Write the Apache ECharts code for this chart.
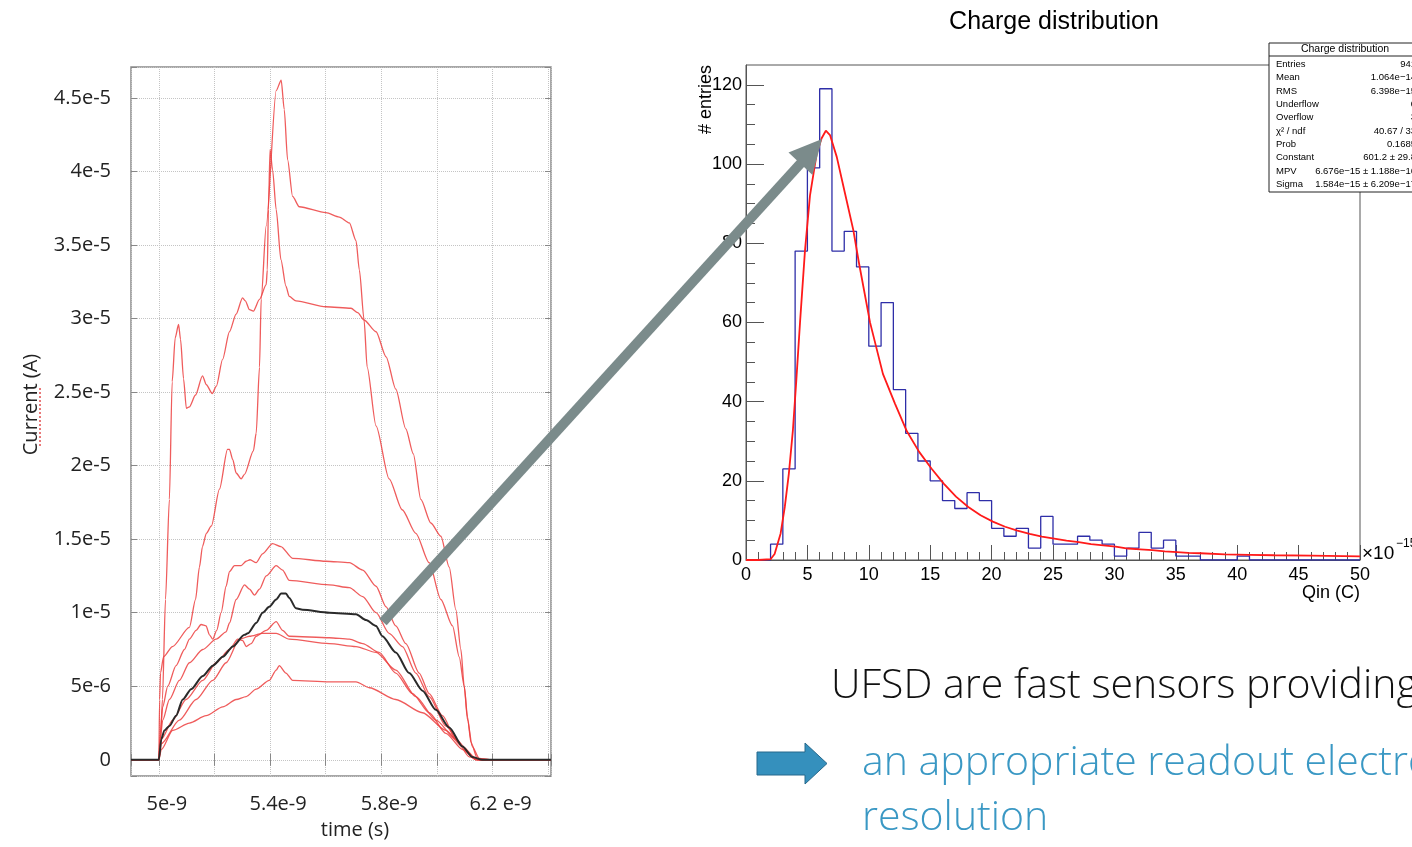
<!DOCTYPE html>
<html>
<head>
<meta charset="utf-8">
<title>UFSD current pulses and charge distribution</title>
<script src="https://cdn.jsdelivr.net/npm/echarts@6.0.0/dist/echarts.min.js"></script>
<style>
  html, body { margin: 0; padding: 0; background: #fff; }
  #chart { width: 1412px; height: 847px; }
</style>
</head>
<body>
<div id="chart"></div>
<script>
// left panel: simulated current pulses, time in ns, current in uA
var pulseTall = [[4.9,0],[5.0,0],[5.003,4.1],[5.006,5.9],[5.017,7.0],[5.049,7.7],[5.110,9.0],[5.132,10.9],[5.146,13.1],[5.157,14.5],[5.171,15.4],[5.189,15.9],[5.218,18.4],[5.247,21.1],[5.254,21.1],[5.266,20.4],[5.278,19.5],[5.296,19.1],[5.308,19.4],[5.340,21.0],[5.350,22.2],[5.362,26.7],[5.368,31.3],[5.386,36.3],[5.422,45.5],[5.440,46.2],[5.451,44.2],[5.463,40.8],[5.481,38.3],[5.505,37.6],[5.601,37.2],[5.649,36.9],[5.685,36.5],[5.709,35.3],[5.721,33.3],[5.738,29.9],[5.749,26.7],[5.781,22.7],[5.828,19.1],[5.875,17.0],[5.924,15.4],[5.972,13.4],[6.014,10.9],[6.056,9.1],[6.080,7.0],[6.098,5.0],[6.110,2.9],[6.122,1.2],[6.145,0.1],[6.198,0],[6.41,0]];
var pulseSpike = [[4.9,0],[5.0,0],[5.006,1.4],[5.013,4.1],[5.024,10.9],[5.038,17.7],[5.048,25.7],[5.059,28.7],[5.071,29.6],[5.078,28.6],[5.089,25.9],[5.099,23.9],[5.110,24.0],[5.132,24.8],[5.157,26.1],[5.171,25.5],[5.192,24.9],[5.207,25.4],[5.229,27.2],[5.254,29.1],[5.278,30.3],[5.301,31.4],[5.311,31.2],[5.326,30.6],[5.340,30.5],[5.362,31.3],[5.386,32.3],[5.390,33.3],[5.394,37.4],[5.400,41.5],[5.409,40.1],[5.422,37.4],[5.439,34.0],[5.457,32.2],[5.469,31.5],[5.493,31.2],[5.601,30.8],[5.691,30.7],[5.715,30.4],[5.738,29.9],[5.781,29.1],[5.817,27.4],[5.852,25.2],[5.888,22.5],[5.915,20.8],[5.942,17.7],[5.978,16.1],[6.014,15.2],[6.044,13.1],[6.068,10.2],[6.086,7.5],[6.098,5.0],[6.110,2.7],[6.127,0.9],[6.152,0.1],[6.198,0],[6.41,0]];
var pulseLow1 = [[4.9,0],[5.0,0],[5.005,1.8],[5.014,3.6],[5.032,5.0],[5.062,6.4],[5.092,7.5],[5.110,8.2],[5.134,8.8],[5.152,9.2],[5.170,9.1],[5.182,8.5],[5.194,8.2],[5.208,8.8],[5.224,10.0],[5.242,11.8],[5.254,12.8],[5.272,13.2],[5.296,13.2],[5.314,13.5],[5.328,13.6],[5.350,13.4],[5.373,14.0],[5.409,14.7],[5.439,14.5],[5.481,13.7],[5.601,13.5],[5.685,13.4],[5.733,12.9],[5.781,11.8],[5.817,10.4],[5.852,9.1],[5.888,7.9],[5.936,5.9],[5.972,4.5],[6.020,3.0],[6.068,1.4],[6.116,0.2],[6.152,0],[6.41,0]];
var pulseLow2 = [[4.9,0],[5.0,0],[5.005,1.4],[5.014,2.7],[5.038,4.1],[5.074,5.4],[5.110,6.6],[5.158,7.5],[5.206,8.2],[5.242,8.7],[5.254,9.3],[5.278,10.9],[5.308,11.9],[5.326,11.6],[5.344,11.2],[5.362,11.6],[5.386,12.5],[5.422,13.2],[5.445,12.9],[5.469,12.2],[5.613,11.9],[5.685,11.7],[5.733,11.1],[5.781,10.0],[5.828,8.6],[5.876,7.7],[5.924,5.9],[5.972,4.3],[6.032,2.3],[6.092,0.9],[6.140,0],[6.41,0]];
var pulseLow3 = [[4.9,0],[5.0,0],[5.009,1.4],[5.050,2.7],[5.098,4.1],[5.158,5.4],[5.206,6.6],[5.254,7.5],[5.284,8.2],[5.302,8.1],[5.314,7.7],[5.332,7.9],[5.350,8.4],[5.386,8.8],[5.422,9.4],[5.445,8.8],[5.469,8.4],[5.613,8.3],[5.685,8.2],[5.733,7.9],[5.792,7.3],[5.852,5.9],[5.912,4.5],[5.972,3.2],[6.032,1.8],[6.092,0.7],[6.140,0],[6.41,0]];
var pulseLow4 = [[4.9,0],[5.0,0],[5.009,1.1],[5.074,2.7],[5.134,4.1],[5.194,5.4],[5.242,6.6],[5.290,8.2],[5.326,8.4],[5.373,8.6],[5.422,8.6],[5.469,8.2],[5.613,7.9],[5.709,7.7],[5.781,7.3],[5.852,6.1],[5.924,4.3],[5.996,2.7],[6.068,1.4],[6.127,0.2],[6.152,0],[6.41,0]];
var pulseLow5 = [[4.9,0],[5.0,0],[5.009,0.7],[5.050,2.0],[5.110,2.5],[5.170,3.0],[5.230,3.6],[5.278,4.1],[5.314,4.3],[5.350,4.8],[5.397,5.4],[5.422,6.1],[5.433,6.4],[5.457,5.9],[5.481,5.4],[5.613,5.3],[5.709,5.3],[5.757,4.9],[5.852,4.1],[5.948,3.2],[6.032,2.0],[6.092,0.9],[6.140,0.1],[6.163,0],[6.41,0]];
var pulseBlack = [[4.9,0],[5.0,0],[5.009,1.4],[5.020,2.0],[5.038,2.3],[5.062,3.0],[5.086,4.1],[5.116,4.8],[5.158,5.7],[5.194,6.4],[5.230,7.0],[5.266,7.7],[5.308,8.5],[5.320,8.6],[5.350,9.3],[5.373,10.0],[5.397,10.4],[5.422,10.9],[5.440,11.3],[5.457,11.3],[5.469,11.0],[5.493,10.3],[5.517,10.2],[5.613,10.0],[5.709,9.9],[5.745,9.5],[5.781,9.1],[5.804,8.4],[5.852,7.3],[5.900,5.9],[5.948,4.7],[5.996,3.4],[6.044,2.2],[6.092,0.9],[6.127,0.2],[6.163,0],[6.41,0]];

var timeTicks = [5.0, 5.4, 5.8, 6.2];
var timeTickText = ['5e-9', '5.4e-9', '5.8e-9', '6.2 e-9'];

// right panel: charge histogram, bin i covers [i, i+1) x 1e-15 C
var histCounts = [0,0,4,23,78,99,119,78,83,74,54,65,43,32,25,20,15,13,17,15,8,6,8,3,11,4,4,6,5,4,1,3,7,3,5,1,1,0,0,0,1,0,0,0,0,0,0,0,0,0];
// landau fit curve
var fitX = [0,1,2,2.33,2.82,3.16,3.49,3.82,4.09,4.4,4.8,5.21,5.76,6.16,6.5,6.84,7.39,8.06,8.74,9.2,10.1,11.15,12.13,13.1,14.1,15.1,16.1,17.1,18.1,19.1,20.1,21.1,22.1,23.1,24.1,25.1,26.1,27.1,28.1,29.1,30.1,31.1,32.1,33.1,34.1,35.1,36,37,39,41,43,46,50];
var fitY = [0,0,0.2,1.5,6.7,13.4,21.8,32.8,45,60,78,92,102.7,106.5,108.4,107.3,101.8,92.6,83.3,75,60,47,39.5,32.5,27.3,23.1,19.3,16.0,13.4,11.3,9.7,8.4,7.4,6.6,5.9,5.4,4.9,4.5,4.0,3.7,3.4,2.9,2.7,2.5,2.2,2.0,1.8,1.7,1.4,1.3,1.2,1.1,0.9];
var entryTicks = [0, 20, 40, 60, 80, 100, 120];

var statsNames = ['Entries', 'Mean', 'RMS', 'Underflow', 'Overflow', 'χ² / ndf', 'Prob', 'Constant', 'MPV', 'Sigma'];
var statsValues = ['941', '1.064e−14', '6.398e−15', '0', '3', '40.67 / 33', '0.1685', '601.2 ± 29.8', '6.676e−15 ± 1.188e−16', '1.584e−15 ± 6.209e−17'];

var histData = histCounts.map(function (c, i) { return [i, c]; });
histData.push([histCounts.length, histCounts[histCounts.length - 1]]);
var fitData = fitX.map(function (x, i) { return [x, fitY[i]]; });
var minorEntryTicks = [];
for (var v = 0; v <= 120; v += 5) minorEntryTicks.push(v);

var chart = echarts.init(document.getElementById('chart'));

var slideFont = 'Open Sans';
var rootFont = 'Liberation Sans';
var redLine = { color: 'rgba(236,64,64,0.85)', width: 1.3 };

function currentLabel(v) {
  if (Math.abs(v) < 1e-9) return '0';
  if (v < 0 || Math.abs(v / 5 - Math.round(v / 5)) > 1e-6) return '';
  return v < 10 ? Math.round(v) + 'e-6' : (Math.round(v) / 10) + 'e-5';
}
function timeLabel(v) {
  for (var i = 0; i < timeTicks.length; i++) {
    if (Math.abs(timeTicks[i] - v) < 1e-6) return timeTickText[i];
  }
  return '';
}

function pulse(data, line) {
  return {
    type: 'line', xAxisIndex: 0, yAxisIndex: 0, data: data,
    showSymbol: false, smooth: 0.25, smoothMonotone: 'x',
    lineStyle: line, itemStyle: { color: line.color }
  };
}

var statsElements = [
  { type: 'rect', shape: { x: 1269, y: 43, width: 152, height: 149 }, style: { fill: '#fff', stroke: '#222', lineWidth: 1 }, z: 50 },
  { type: 'line', shape: { x1: 1269, y1: 56, x2: 1421, y2: 56 }, style: { stroke: '#222', lineWidth: 1 }, z: 51 },
  { type: 'text', x: 1345, y: 49.5, style: { text: 'Charge distribution', font: '10.5px "' + rootFont + '"', fill: '#000', textAlign: 'center', textVerticalAlign: 'middle' }, z: 51 }
];
statsNames.forEach(function (name, i) {
  statsElements.push({ type: 'text', x: 1276, y: 64.5 + i * 13.3, style: { text: name, font: '9.5px "' + rootFont + '"', fill: '#000', textVerticalAlign: 'middle' }, z: 51 });
  statsElements.push({ type: 'text', x: 1416, y: 64.5 + i * 13.3, style: { text: statsValues[i], font: '9.5px "' + rootFont + '"', fill: '#000', textAlign: 'right', textVerticalAlign: 'middle' }, z: 51 });
});

var arrowGray = '#7b8b8b';
var slideText = '300 41px "' + slideFont + '"';
var decorations = [
  // ROOT title and axis titles of the histogram
  { type: 'text', x: 1054, y: 22, style: { text: 'Charge distribution', font: '25px "' + rootFont + '"', fill: '#000', textAlign: 'center', textVerticalAlign: 'middle' } },
  { type: 'text', x: 706, y: 65, rotation: Math.PI / 2, style: { text: '# entries', font: '18px "' + rootFont + '"', fill: '#000', textAlign: 'right', textVerticalAlign: 'middle' } },
  { type: 'text', x: 1360, y: 593, style: { text: 'Qin (C)', font: '18px "' + rootFont + '"', fill: '#000', textAlign: 'right', textVerticalAlign: 'middle' } },
  { type: 'text', x: 1362, y: 554, style: { text: '×10', font: '19px "' + rootFont + '"', fill: '#000', textVerticalAlign: 'middle' } },
  { type: 'text', x: 1396, y: 544, style: { text: '−15', font: '12px "' + rootFont + '"', fill: '#000', textVerticalAlign: 'middle' } },
  // spell-check squiggle under "Current"
  { type: 'line', shape: { x1: 40, y1: 388, x2: 40, y2: 448 }, style: { stroke: '#e04040', lineWidth: 1.4, lineDash: [2, 2] } },
  // gray pointer arrow
  { type: 'line', shape: { x1: 383, y1: 622, x2: 801, y2: 163 }, style: { stroke: arrowGray, lineWidth: 10 }, z: 100 },
  { type: 'polygon', shape: { points: [[822, 139], [812.5, 175], [788.5, 152.5]] }, style: { fill: arrowGray }, z: 100 },
  // slide text
  { type: 'text', x: 831, y: 686, style: { text: 'UFSD are fast sensors providing', font: slideText, fill: '#111', textVerticalAlign: 'middle' } },
  { type: 'polygon', shape: { points: [[757, 752], [805, 752], [805, 743], [827, 763.5], [805, 784], [805, 775], [757, 775]] }, style: { fill: '#3590bd', stroke: '#27698c', lineWidth: 1 } },
  { type: 'text', x: 862, y: 763, style: { text: 'an appropriate readout electronics', font: slideText, fill: '#3a98c4', textVerticalAlign: 'middle' } },
  { type: 'text', x: 862, y: 818, style: { text: 'resolution', font: slideText, fill: '#3a98c4', textVerticalAlign: 'middle' } }
];

var option = {
  backgroundColor: '#fff',
  animation: false,
  grid: [
    { left: 131, top: 67, width: 420, height: 709, show: true, borderColor: '#8a8a8a', borderWidth: 1.5 },
    { left: 746, top: 65, width: 614, height: 495, show: true, borderColor: '#555', borderWidth: 1 }
  ],
  xAxis: [
    {
      type: 'value', gridIndex: 0, position: 'bottom', min: 4.9, max: 6.41,
      splitNumber: 7, minInterval: 0.2, maxInterval: 0.2,
      axisLine: { show: false },
      axisTick: { inside: true, length: 6, lineStyle: { color: '#888' } },
      splitLine: { show: true, lineStyle: { type: 'dotted', color: '#c4c4c4' } },
      axisLabel: { formatter: timeLabel, margin: 18, fontFamily: slideFont, fontSize: 20, color: '#222', padding: [0, 0, 0, 16] },
      name: 'time (s)', nameLocation: 'middle', nameGap: 44,
      nameTextStyle: { fontFamily: slideFont, fontSize: 20, color: '#222', padding: [0, 0, 0, 28] }
    },
    {
      type: 'value', gridIndex: 0, position: 'top', min: 4.9, max: 6.41,
      splitNumber: 7, minInterval: 0.2, maxInterval: 0.2,
      axisLine: { show: false }, axisLabel: { show: false }, splitLine: { show: false },
      axisTick: { inside: true, length: 6, lineStyle: { color: '#888' } }
    },
    {
      type: 'value', gridIndex: 1, min: 0, max: 50, interval: 5,
      axisLine: { show: true, lineStyle: { color: '#555' } },
      axisTick: { inside: true, length: 15, lineStyle: { color: '#555' } },
      minorTick: { show: true, splitNumber: 5, length: 8, lineStyle: { color: '#555' } },
      splitLine: { show: false },
      axisLabel: { margin: 6, fontFamily: rootFont, fontSize: 18, color: '#000' }
    }
  ],
  yAxis: [
    {
      type: 'value', gridIndex: 0, position: 'left', min: -1.1, max: 47.1,
      splitNumber: 9, minInterval: 5, maxInterval: 5,
      axisLine: { show: false },
      axisTick: { inside: true, length: 6, lineStyle: { color: '#888' } },
      splitLine: { show: true, lineStyle: { type: 'dotted', color: '#c4c4c4' } },
      axisLabel: { formatter: currentLabel, margin: 20, fontFamily: slideFont, fontSize: 20, color: '#222' },
      name: 'Current (A)', nameLocation: 'middle', nameGap: 90,
      nameTextStyle: { fontFamily: slideFont, fontSize: 20, color: '#222', padding: [0, 0, 0, 34] }
    },
    {
      type: 'value', gridIndex: 0, position: 'right', min: -1.1, max: 47.1,
      splitNumber: 9, minInterval: 5, maxInterval: 5,
      axisLine: { show: false }, axisLabel: { show: false }, splitLine: { show: false },
      axisTick: { inside: true, length: 6, lineStyle: { color: '#888' } }
    },
    {
      type: 'value', gridIndex: 1, position: 'left', min: 0, max: 125, interval: 5,
      axisLine: { show: true, lineStyle: { color: '#555' } },
      axisTick: { inside: true, length: 9, customValues: minorEntryTicks, lineStyle: { color: '#555' } },
      axisLabel: { show: false }, splitLine: { show: false }
    },
    {
      type: 'value', gridIndex: 1, position: 'left', min: 0, max: 125, interval: 20,
      axisLine: { show: false },
      axisTick: { inside: true, length: 18, customValues: entryTicks, lineStyle: { color: '#555' } },
      axisLabel: { customValues: entryTicks, margin: 4, fontFamily: rootFont, fontSize: 18, color: '#000' },
      splitLine: { show: false }
    }
  ],
  series: [
    pulse(pulseTall, redLine),
    pulse(pulseSpike, redLine),
    pulse(pulseLow1, redLine),
    pulse(pulseLow2, redLine),
    pulse(pulseLow3, redLine),
    pulse(pulseLow4, redLine),
    pulse(pulseLow5, redLine),
    pulse(pulseBlack, { color: '#2a2a2a', width: 2 }),
    {
      type: 'line', xAxisIndex: 2, yAxisIndex: 3, data: histData, step: 'end',
      showSymbol: false, lineStyle: { color: '#2e2ea8', width: 1.3 }, itemStyle: { color: '#2e2ea8' }
    },
    {
      type: 'line', xAxisIndex: 2, yAxisIndex: 3, data: fitData,
      showSymbol: false, lineStyle: { color: '#ff1a1a', width: 1.8 }, itemStyle: { color: '#ff1a1a' }
    }
  ],
  graphic: { elements: decorations.concat(statsElements) }
};

chart.setOption(option);
</script>
</body>
</html>
